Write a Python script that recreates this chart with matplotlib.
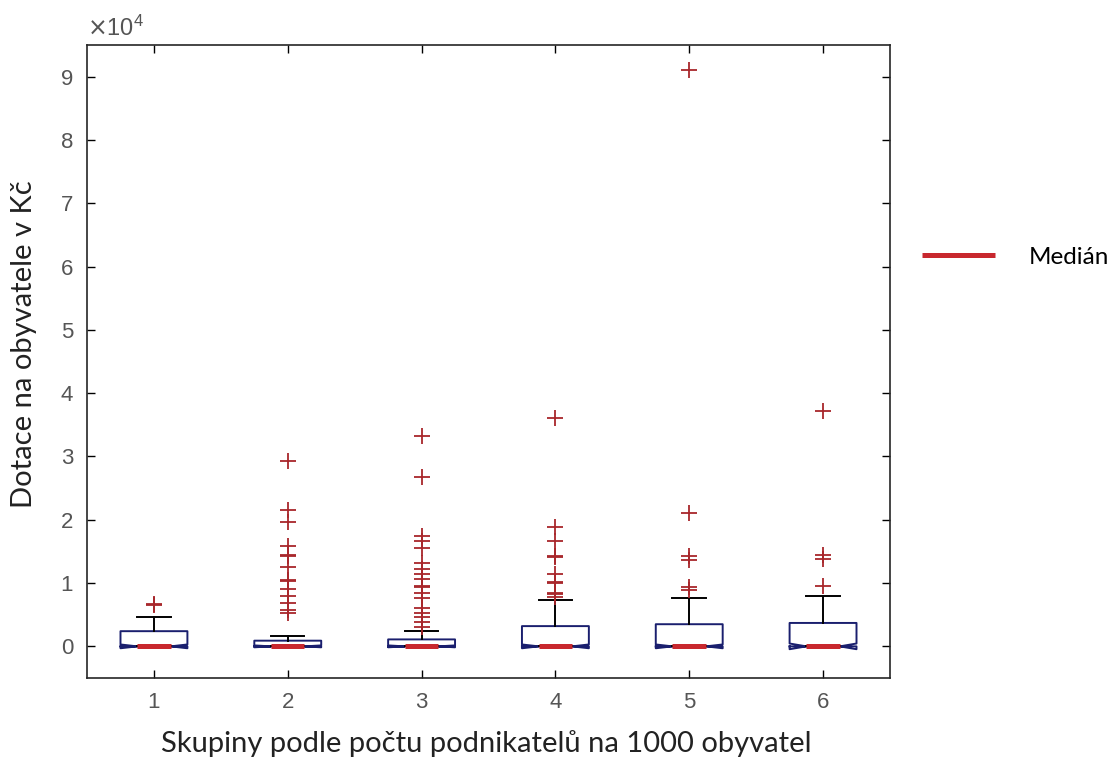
import matplotlib.pyplot as plt
from matplotlib.ticker import FuncFormatter

# skupiny 1..6, hodnoty v Kč
skupiny = [1, 2, 3, 4, 5, 6]
q1 = [0, 0, 0, 0, 0, 0]
median = [0, 0, 0, 0, 0, 0]
q3 = [2400, 900, 1100, 3200, 3500, 3700]
whis_lo = [0, 0, 0, 0, 0, 0]
whis_hi = [4600, 1700, 2400, 7300, 7600, 7900]
ci_lo = [-300, -150, -150, -300, -300, -450]
ci_hi = [300, 150, 150, 300, 300, 450]
odlehle = [
    [6600, 6700],
    [29300, 21600, 19600, 15800, 14500, 14200, 12500, 10500, 10300, 9100,
     8000, 6800, 5700, 5200],
    [33300, 26800, 17500, 16700, 15500, 13100, 12300, 11500, 10700, 9600,
     9300, 8400, 7600, 6000, 5200, 4600, 3800, 3000],
    [36000, 18800, 16700, 14300, 14100, 11400, 10200, 10000, 8500, 8300, 7800],
    [91000, 21000, 14200, 13700, 9300, 8900],
    [37200, 14500, 13800, 9600],
]

stats = []
for i in range(len(skupiny)):
    stats.append({
        'label': str(skupiny[i]),
        'q1': q1[i], 'med': median[i], 'q3': q3[i],
        'whislo': whis_lo[i], 'whishi': whis_hi[i],
        'cilo': ci_lo[i], 'cihi': ci_hi[i],
        'fliers': odlehle[i],
    })

fig = plt.figure(figsize=(11.13, 7.65), dpi=100)
ax = fig.add_axes([0.0782, 0.1137, 0.7214, 0.8275])

bp = ax.bxp(stats, positions=skupiny, widths=0.5, shownotches=True,
            patch_artist=False,
            boxprops=dict(color='#1a1f6e', linewidth=1.4),
            whiskerprops=dict(color='black', linewidth=1.4),
            capprops=dict(color='black', linewidth=1.4),
            medianprops=dict(color='#c8282e', linewidth=3.6, solid_capstyle='butt'),
            flierprops=dict(marker='+', markeredgecolor='#a8262b', markersize=11,
                            markeredgewidth=1.3, linestyle='none'))

ax.set_xlim(0.5, 6.5)
ax.set_ylim(-5000, 95000)
ax.set_yticks([i * 10000 for i in range(10)])
ax.yaxis.set_major_formatter(FuncFormatter(lambda v, p: '%d' % round(v / 10000)))
ax.tick_params(direction='in', top=True, right=True, length=6, width=1,
               labelsize=16, labelcolor='#555555', pad=10)
for t in ax.get_xticklabels() + ax.get_yticklabels():
    t.set_fontfamily('Liberation Sans')
for s in ax.spines.values():
    s.set_linewidth(1.2)
    s.set_color('#262626')

ax.text(0.0, 1.006, r'$\times\mathregular{10^4}$', transform=ax.transAxes,
        fontsize=17, color='#555555', ha='left', va='bottom',
        fontfamily='Liberation Sans')

ax.set_xlabel('Skupiny podle počtu podnikatelů na 1000 obyvatel',
              fontfamily='Lato', fontsize=21, color='#222222', va='top')
ax.xaxis.set_label_coords(0.4975, -0.082)
ax.set_ylabel('Dotace na obyvatele v Kč', fontfamily='Lato', fontsize=21,
              color='#222222')
ax.yaxis.set_label_coords(-0.062, 0.527)

fig.legend([bp['medians'][0]], ['Medián'], loc='center left',
           bbox_to_anchor=(922 / 1113, 1 - 257 / 765), frameon=False,
           borderpad=0, borderaxespad=0, handlelength=3.0, handletextpad=1.4,
           prop={'family': 'Lato', 'size': 17.5})

fig.savefig('out.png', dpi=100, facecolor='white')
